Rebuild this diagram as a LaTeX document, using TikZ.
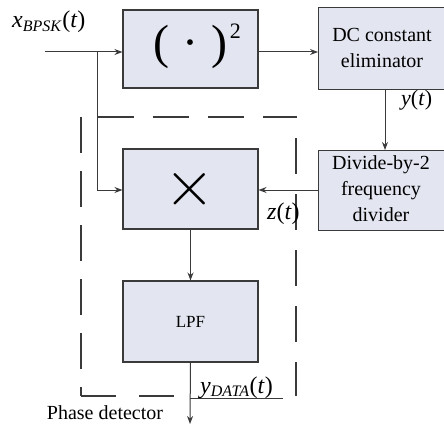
\documentclass[tikz,border=0pt]{standalone}
\usepackage{graphicx}
\usepackage{fontspec}
\setmainfont{Liberation Serif}
\usetikzlibrary{arrows.meta}
\definecolor{boxfill}{HTML}{E3E5F0}
\definecolor{ln}{HTML}{3A3A3A}
\begin{document}
\begin{tikzpicture}[x=1pt,y=-1pt,
  blk/.style={draw=ln,fill=boxfill,line width=1.1pt,inner sep=0pt,align=center},
  conn/.style={draw=ln,line width=1pt,-{Stealth[length=8pt,width=6pt]}},
  lbl/.style={font=\fontsize{24}{24}\selectfont,inner sep=0pt},
  txt/.style={font=\fontsize{20}{26}\selectfont},
  frame/.style={ln,line width=1.2pt}]
\useasboundingbox (0,0) rectangle (444,425);
\begin{scope}
\clip (0,0) rectangle (444,425);
\node[blk,minimum width=135pt,minimum height=78pt] (sq) at (190.5,49) {};
\node[inner sep=0pt] (sqt) at (197,46) {\fontsize{48}{48}\selectfont(\;·\;)\hspace{2pt}\raisebox{20pt}{\fontsize{22}{22}\selectfont 2}};
\node[blk,minimum width=134pt,minimum height=82pt,anchor=north west] (dc) at (318,7) {};
\node[txt,align=center] (dct) at (382,48) {DC constant\\eliminator};
\node[blk,minimum width=134pt,minimum height=80pt,anchor=north west] (div) at (318,150) {};
\node[txt,align=center] (divt) at (381,189) {Divide-by-2\\frequency\\divider};
\node[blk,minimum width=135pt,minimum height=80pt] (mx) at (190.5,189) {};
\node[inner sep=0pt] (mxt) at (190,189) {\scalebox{6.5}{$\times$}};
\node[blk,minimum width=135pt,minimum height=81pt] (lpf) at (190.5,321.5) {\fontsize{17}{17}\selectfont LPF};
\end{scope}
\coordinate (in) at (45,52);
\coordinate (br) at (97,52);
\coordinate (brd) at (97,190);
\coordinate (out) at (190,424);
\draw[conn] (in) -- (sq.west|-in);
\draw[conn] (br) -- (brd) -- (mx.west|-brd);
\draw[conn] (sq.east|-in) -- (dc.west|-in);
\draw[conn] (385,89) -- (385,150);
\draw[conn] (div.west|-brd) -- (mx.east|-brd);
\draw[conn] (lpf.north|-mx.south) -- (lpf.north);
\draw[conn] (lpf.south) -- (out);
% dashed phase detector frame
\coordinate (ftl) at (81,117);
\coordinate (fbl) at (81,396);
\coordinate (fbm) at (175,396);
\coordinate (ftr) at (297,117);
\coordinate (frt) at (296,138);
\coordinate (frb) at (296,396);
\coordinate (ftm) at (98,117);
\draw[frame,dash pattern=on 36pt off 18pt] (ftl) -- (fbl);
\draw[frame,dash pattern=on 35pt off 23pt] (fbl) -- (fbm);
\draw[frame,dash pattern=on 36pt off 19pt] (ftm) -- (ftr);
\draw[frame,dash pattern=on 36pt off 20pt] (frt) -- (frb);
\coordinate (ul1) at (190,398);
\coordinate (ul2) at (283,398);
\draw[ln,line width=1pt] (ul1) -- (ul2);
% labels
\node[lbl,anchor=base west] (lx) at (12,28) {\textit{x}\textsubscript{\fontsize{16}{16}\selectfont\textit{BPSK}}(\textit{t})};
\node[lbl,anchor=base west] (ly) at (401,106) {\fontsize{22}{22}\selectfont\textit{y}(\textit{t})};
\node[lbl,anchor=base west] (lz) at (267,219) {\textit{z}(\textit{t})};
\node[lbl,anchor=base west] (ld) at (200,393) {\textit{y}\textsubscript{\fontsize{16}{16}\selectfont\textit{DATA}}(\textit{t})};
\node[txt,anchor=base] (pd) at (105,419) {Phase detector};
\end{tikzpicture}
\end{document}
